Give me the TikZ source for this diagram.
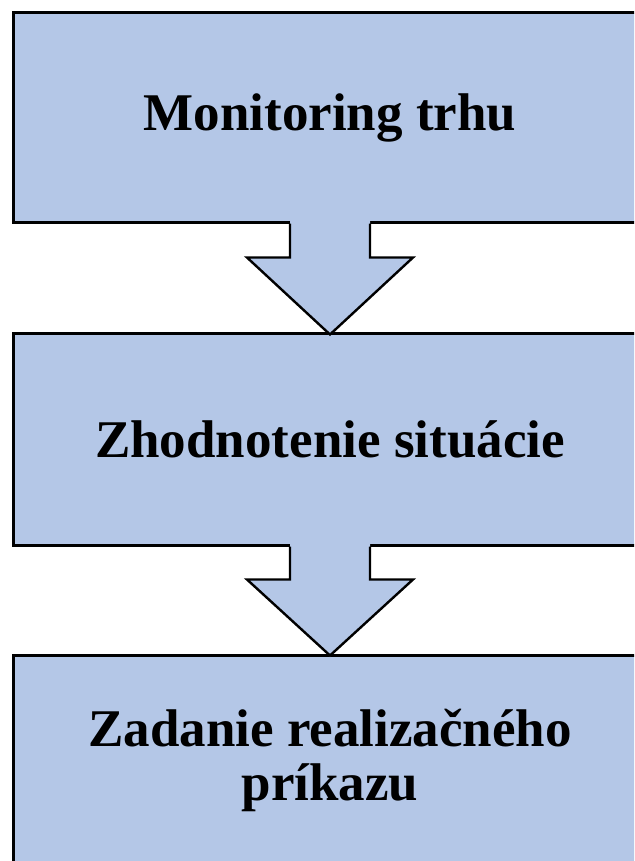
\documentclass[tikz,border=0pt]{standalone}
\usepackage{fontspec}
\setmainfont{Liberation Serif}
\usetikzlibrary{calc}
\definecolor{boxblue}{HTML}{B4C7E7}
\tikzset{
  stagebox/.style={draw=black, fill=boxblue, line width=3pt, minimum width=634pt,
    inner sep=0pt, align=center, font=\fontsize{53}{54}\selectfont\bfseries},
  flowarrow/.style={draw=black, line width=2.4pt, line join=miter},
}
\begin{document}
\begin{tikzpicture}[x=1pt,y=-1pt]
\useasboundingbox (0,0) rectangle (634,861);
\clip (0,0) rectangle (634,861);
\node[stagebox, minimum height=209pt] (b1) at (330,117.5) {Monitoring trhu};
\node[stagebox, minimum height=212pt] (b2) at (330,439) {Zhodnotenie situácie};
\node[stagebox, minimum height=210pt] (b3) at (330,760) {Zadanie realizačného\\príkazu};
% arrow 1
\fill[boxblue] ($(b1.south)+(-40,-3)$) -- ($(b1.south)+(-40,34)$) -- ($(b1.south)+(-83,34)$)
  -- ($(b2.north)+(0,4)$) -- ($(b1.south)+(83,34)$) -- ($(b1.south)+(40,34)$) -- ($(b1.south)+(40,-3)$) -- cycle;
\draw[flowarrow] ($(b1.south)+(-40,0)$) -- ($(b1.south)+(-40,34)$) -- ($(b1.south)+(-83,34)$)
  -- ($(b2.north)+(0,3)$) -- ($(b1.south)+(83,34)$) -- ($(b1.south)+(40,34)$) -- ($(b1.south)+(40,0)$);
% arrow 2
\fill[boxblue] ($(b2.south)+(-40,-3)$) -- ($(b2.south)+(-40,33)$) -- ($(b2.south)+(-83,33)$)
  -- ($(b3.north)+(0,3)$) -- ($(b2.south)+(83,33)$) -- ($(b2.south)+(40,33)$) -- ($(b2.south)+(40,-3)$) -- cycle;
\draw[flowarrow] ($(b2.south)+(-40,0)$) -- ($(b2.south)+(-40,33)$) -- ($(b2.south)+(-83,33)$)
  -- ($(b3.north)+(0,2)$) -- ($(b2.south)+(83,33)$) -- ($(b2.south)+(40,33)$) -- ($(b2.south)+(40,0)$);
\end{tikzpicture}
\end{document}
